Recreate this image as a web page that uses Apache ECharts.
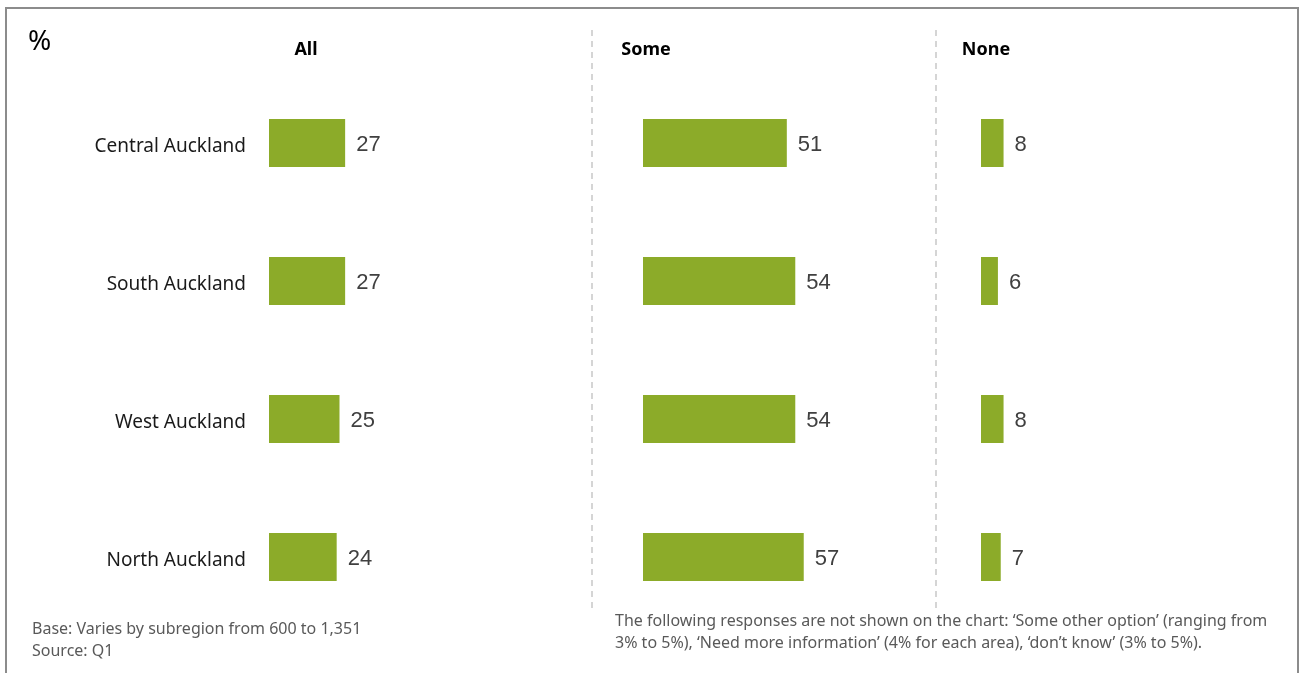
<!DOCTYPE html>
<html>
<head>
<meta charset="utf-8">
<script src="https://cdn.jsdelivr.net/npm/echarts@6/dist/echarts.min.js"></script>
<style>
  html, body { margin: 0; padding: 0; background: #ffffff; }
  #chart { width: 1301px; height: 673px; }
</style>
</head>
<body>
<div id="chart"></div>
<script>
// Subregions, top to bottom
const subregions = ['Central Auckland', 'South Auckland', 'West Auckland', 'North Auckland'];

// Share of respondents (%) per answer
const allValues  = [27, 27, 25, 24];
const someValues = [51, 54, 54, 57];
const noneValues = [8, 6, 8, 7];

// Panel headings
const panelTitles = ['All', 'Some', 'None'];

const barColor = '#8CAB29';
const valueFont = { fontFamily: 'Liberation Sans', fontSize: 22, color: '#404040' };
const uiFont = 'Noto Sans';

const panels = [
  { left: 269, data: allValues },
  { left: 643, data: someValues },
  { left: 981, data: noneValues }
];

const grids = panels.map(p => ({ left: p.left, top: 74, width: 282, height: 552, containLabel: false }));

const xAxes = panels.map((p, i) => ({
  type: 'value', gridIndex: i, min: 0, max: 100,
  show: false, splitLine: { show: false }
}));

const yAxes = panels.map((p, i) => ({
  type: 'category', gridIndex: i, data: subregions, inverse: true,
  axisLine: { show: false }, axisTick: { show: false }, splitLine: { show: false },
  axisLabel: {
    show: i === 0, margin: 23,
    formatter: v => '{n|' + v + '}',
    rich: {
      n: { fontFamily: uiFont, fontSize: 19, color: '#1a1a1a', padding: [8, 0, 0, 0] }
    }
  }
}));

const series = panels.map((p, i) => ({
  type: 'bar', xAxisIndex: i, yAxisIndex: i,
  data: p.data, barWidth: 48,
  itemStyle: { color: barColor },
  label: { show: true, position: 'right', distance: 11, offset: [0, 2], ...valueFont },
  silent: true, animation: false
}));

const titleX = [306, 646, 986];
const headings = panelTitles.map((t, i) => ({
  type: 'text', x: titleX[i], y: 50,
  style: {
    text: t, textAlign: 'center', textVerticalAlign: 'middle',
    font: 'bold 18px "Noto Sans"', fill: '#000000'
  }
}));

const dashed = [592, 936].map(x => ({
  type: 'line',
  shape: { x1: x, y1: 30, x2: x, y2: 612 },
  style: { stroke: '#c8c8c8', lineWidth: 1.5, lineDash: [6, 5] }
}));

const chart = echarts.init(document.getElementById('chart'), null, { renderer: 'canvas' });
chart.setOption({
  backgroundColor: '#ffffff',
  animation: false,
  grid: grids,
  xAxis: xAxes,
  yAxis: yAxes,
  series: series,
  graphic: [
    {
      type: 'rect', shape: { x: 6, y: 8, width: 1292, height: 680 },
      style: { fill: 'none', stroke: '#8c8c8c', lineWidth: 2 }
    },
    {
      type: 'text', x: 28, y: 42,
      style: { text: '%', textVerticalAlign: 'middle', font: '28px "Noto Sans"', fill: '#000000' }
    },
    ...headings,
    ...dashed,
    {
      type: 'text', x: 32, y: 618,
      style: {
        text: 'Base: Varies by subregion from 600 to 1,351\nSource: Q1',
        font: '16px "Noto Sans"', lineHeight: 22, fill: '#595959'
      }
    },
    {
      type: 'text', x: 615, y: 610,
      style: {
        text: 'The following responses are not shown on the chart: \u2018Some other option\u2019 (ranging from\n3% to 5%), \u2018Need more information\u2019 (4% for each area), \u2018don\u2019t know\u2019 (3% to 5%).',
        font: '16px "Noto Sans"', lineHeight: 22, fill: '#595959'
      }
    }
  ]
});
</script>
</body>
</html>
